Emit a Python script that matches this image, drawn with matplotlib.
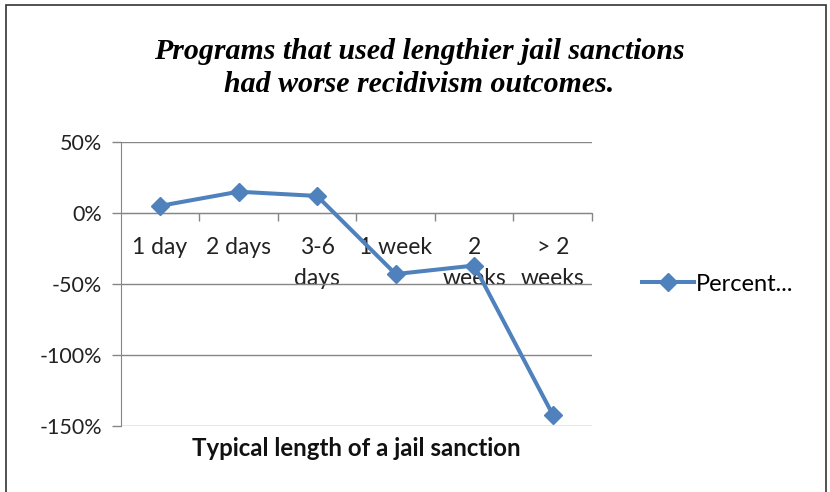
import numpy as np
import matplotlib.pyplot as plt
from matplotlib.patches import Rectangle
from matplotlib.ticker import FixedLocator, FuncFormatter

categories = ["1 day", "2 days", "3-6\ndays", "1 week", "2\nweeks", "> 2\nweeks"]
percent = [5, 15, 12, -43, -37, -142]
y_ticks = [50, 0, -50, -100, -150]

blue = "#4F81BD"
grid_gray = "#868686"

fig = plt.figure(figsize=(8.3, 4.92), dpi=100)
ax = fig.add_axes([0.1454, 0.1341, 0.5679, 0.5773])

x = np.arange(len(categories))
ax.plot(x, percent, color=blue, lw=2.9, marker="D", ms=9.5,
        mfc=blue, mec=blue, label="Percent...", zorder=3)

ax.set_xlim(-0.5, len(categories) - 0.5)
ax.set_ylim(-150, 50)

# horizontal gridlines, left axis in gray
ax.yaxis.set_major_locator(FixedLocator(y_ticks))
ax.yaxis.set_major_formatter(FuncFormatter(lambda v, p: f"{v:.0f}%"))
ax.grid(axis="y", color=grid_gray, lw=1.0)
ax.tick_params(axis="y", length=6.5, width=1.0, color=grid_gray, pad=7,
               labelsize=15.5, labelfontfamily="Lato", labelcolor="#222222")

for side in ["top", "right"]:
    ax.spines[side].set_visible(False)
ax.spines["left"].set_color(grid_gray)
ax.spines["bottom"].set_position(("data", 0))
ax.spines["bottom"].set_color(grid_gray)

# category boundaries get tick marks, labels sit at the centres
ax.xaxis.set_major_locator(FixedLocator(np.arange(0.5, len(categories), 1.0)))
ax.xaxis.set_major_formatter(FuncFormatter(lambda v, p: ""))
ax.xaxis.set_minor_locator(FixedLocator(x))
ax.set_xticklabels(categories, minor=True)
ax.tick_params(axis="x", which="major", length=6, width=1.0, color=grid_gray, direction="out")
ax.tick_params(axis="x", which="minor", length=0, pad=17.5, labelsize=16.5,
               labelfontfamily="Lato", labelcolor="#222222")
for t in ax.get_xticklabels(minor=True):
    t.set_linespacing(1.55)
    t.set_verticalalignment("top")

ax.text(0.5, -0.04, "Typical length of a jail sanction", transform=ax.transAxes,
        ha="center", va="top", fontsize=17.3, fontweight="bold", family="Lato",
        color="#111111")

fig.text(0.505, 0.862, "Programs that used lengthier jail sanctions\nhad worse recidivism outcomes.",
         ha="center", va="center", fontsize=21.5, fontweight="bold", fontstyle="italic",
         family="Liberation Serif", linespacing=1.32)

ax.legend(loc="center left", bbox_to_anchor=(1.06, 0.5), frameon=False,
          handlelength=2.2, handletextpad=0.1, prop={"family": "Lato", "size": 17})

fig.patches.append(Rectangle((0.007, -0.01), 0.988, 1.0, transform=fig.transFigure,
                             fill=False, ec="#333333", lw=1.2))

fig.savefig("out.png", dpi=100)
